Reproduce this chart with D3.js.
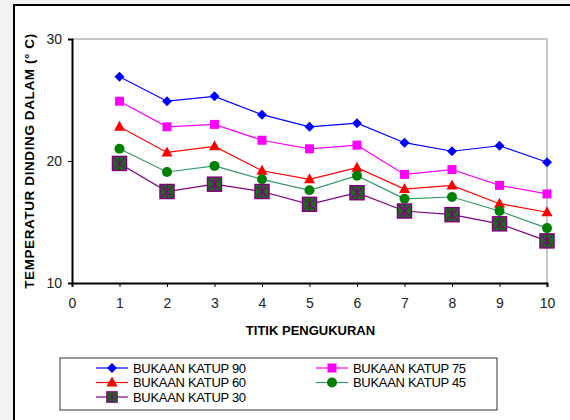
<!DOCTYPE html>
<html>
<head>
<meta charset="utf-8">
<script src="https://cdn.jsdelivr.net/npm/d3@7"></script>
<style>
  body { margin: 0; background: #fff; }
  svg text { font-family: Arial, "Liberation Sans", sans-serif; }
</style>
</head>
<body>
<div id="chart"></div>
<script>
// titik pengukuran 1..10
const titik = [1, 2, 3, 4, 5, 6, 7, 8, 9, 10]
const katup90 = [26.9, 24.9, 25.3, 23.8, 22.8, 23.1, 21.5, 20.8, 21.25, 19.9]
const katup75 = [24.9, 22.8, 23.0, 21.7, 21.0, 21.3, 18.9, 19.3, 18.0, 17.3]
const katup60 = [22.8, 20.7, 21.2, 19.2, 18.5, 19.45, 17.7, 18.0, 16.5, 15.8]
const katup45 = [21.0, 19.1, 19.6, 18.5, 17.6, 18.8, 16.9, 17.05, 15.9, 14.5]
const katup30 = [19.8, 17.5, 18.1, 17.5, 16.45, 17.4, 15.9, 15.6, 14.85, 13.45]
const xTicks = [0, 1, 2, 3, 4, 5, 6, 7, 8, 9, 10]
const yTicks = [10, 20, 30]

const series = [
  { name: "BUKAAN KATUP 90", values: katup90, line: "#0000ff", marker: "diamond" },
  { name: "BUKAAN KATUP 75", values: katup75, line: "#ff00ff", marker: "square" },
  { name: "BUKAAN KATUP 60", values: katup60, line: "#ff0000", marker: "triangle" },
  { name: "BUKAAN KATUP 45", values: katup45, line: "#339966", marker: "circle" },
  { name: "BUKAAN KATUP 30", values: katup30, line: "#800080", marker: "xbox" }
]

const W = 570, H = 420
const margin = { top: 39, left: 72, right: 23, bottom: 137 }
const width = W - margin.left - margin.right
const height = H - margin.top - margin.bottom

const svg = d3.select("#chart").append("svg")
  .attr("width", W).attr("height", H)

// outer frame
svg.append("rect").attr("x", 0).attr("y", 0).attr("width", W).attr("height", H).attr("fill", "#f2f2f2")
svg.append("rect")
  .attr("x", 14).attr("y", 5).attr("width", W).attr("height", H)
  .attr("fill", "#fff").attr("stroke", "#000").attr("stroke-width", 2)

const g = svg.append("g")
  .attr("transform", "translate(" + margin.left + "," + margin.top + ")")

const x = d3.scaleLinear().domain([0, 10]).range([0, width])
const y = d3.scaleLinear().domain([10, 30]).range([height, 0])

// plot area border (grey top + right)
g.append("path")
  .attr("d", "M0,0H" + width + "V" + height)
  .attr("fill", "none").attr("stroke", "#c8c8c8").attr("stroke-width", 2)

const xAxis = g.append("g")
  .attr("transform", "translate(0," + height + ")")
  .call(d3.axisBottom(x).tickValues(xTicks).tickSize(4).tickPadding(11).tickFormat(d3.format("d")))
const yAxis = g.append("g")
  .call(d3.axisLeft(y).tickValues(yTicks).tickSize(4).tickPadding(6).tickFormat(d3.format("d")))

;[xAxis, yAxis].forEach(a => {
  a.select(".domain").attr("stroke", "#000").attr("stroke-width", 2)
  a.selectAll(".tick line").attr("stroke", "#000")
  a.selectAll(".tick text").attr("font-size", 14).attr("fill", "#222")
    .style("font-family", "Arial, 'Liberation Sans', sans-serif")
})

// axis titles
svg.append("text")
  .attr("x", margin.left + width / 2 + 1).attr("y", 335)
  .attr("text-anchor", "middle").attr("font-size", 13).attr("font-weight", "bold")
  .text("TITIK PENGUKURAN")
svg.append("text")
  .attr("transform", "translate(34," + 161 + ") rotate(-90)")
  .attr("text-anchor", "middle").attr("font-size", 13.5).attr("font-weight", "bold")
  .attr("letter-spacing", 0.6)
  .text("TEMPERATUR DINDING DALAM (° C)")

function drawMarker(sel, type, color) {
  if (type === "diamond") {
    sel.append("path").attr("d", "M0,-5L5,0L0,5L-5,0Z").attr("fill", color)
  } else if (type === "square") {
    sel.append("rect").attr("x", -4.5).attr("y", -4.5).attr("width", 9).attr("height", 9).attr("fill", color)
  } else if (type === "triangle") {
    sel.append("path").attr("d", "M0,-6L5.5,4L-5.5,4Z").attr("fill", color)
  } else if (type === "circle") {
    sel.append("circle").attr("r", 5).attr("fill", "#008000")
  } else if (type === "xbox") {
    sel.append("rect").attr("x", -7).attr("y", -7).attr("width", 14).attr("height", 14)
      .attr("fill", "#1a6b1a").attr("stroke", color).attr("stroke-width", 1.5)
    sel.append("path").attr("d", "M-5,-5L5,5M5,-5L-5,5M0,-6V6")
      .attr("stroke", color).attr("stroke-width", 1.2).attr("fill", "none")
  }
}

const line = d3.line()
  .x((d, i) => x(titik[i]))
  .y(d => y(d))

series.forEach(s => {
  g.append("path")
    .datum(s.values)
    .attr("d", line)
    .attr("fill", "none")
    .attr("stroke", s.line)
    .attr("stroke-width", 1.2)
})
series.forEach(s => {
  g.selectAll(null)
    .data(s.values)
    .enter()
    .append("g")
    .attr("transform", (d, i) => "translate(" + x(titik[i]) + "," + y(d) + ")")
    .each(function () { drawMarker(d3.select(this), s.marker, s.line) })
})

// legend
const legend = svg.append("g")
legend.append("rect")
  .attr("x", 60).attr("y", 358).attr("width", 437).attr("height", 52)
  .attr("fill", "#fff").attr("stroke", "#333").attr("stroke-width", 1)

series.forEach((s, i) => {
  const col = i % 2, row = Math.floor(i / 2)
  const lx = col === 0 ? 96 : 316
  const ly = 368 + row * 14.5
  const item = legend.append("g")
  item.append("line")
    .attr("x1", lx).attr("x2", lx + 32).attr("y1", ly).attr("y2", ly)
    .attr("stroke", s.line).attr("stroke-width", 1.2)
  const m = item.append("g").attr("transform", "translate(" + (lx + 16) + "," + ly + ")")
  drawMarker(m, s.marker, s.line)
  if (s.marker === "xbox") m.attr("transform", "translate(" + (lx + 16) + "," + ly + ") scale(0.75)")
  item.append("text")
    .attr("x", lx + 37).attr("y", ly + 4.5)
    .attr("font-size", 13).attr("letter-spacing", -0.3)
    .text(s.name)
})
</script>
</body>
</html>
